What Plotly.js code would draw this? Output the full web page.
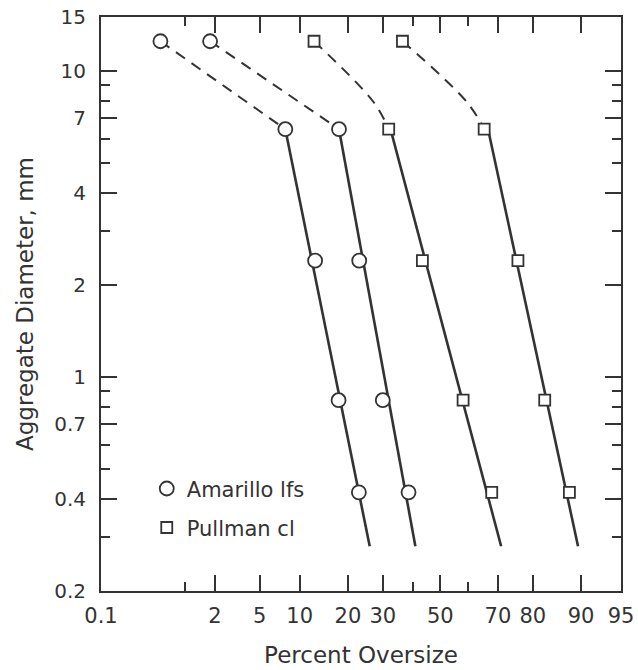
<!DOCTYPE html>
<html>
<head>
<meta charset="utf-8">
<script src="https://cdn.plot.ly/plotly-3.0.1.min.js"></script>
<style>html,body{margin:0;padding:0;background:#fff;}#chart{width:638px;height:670px;}</style>
</head>
<body>
<div id="chart"></div>
<script>
// Sieve diameters (mm)
const diameters = [12.5, 6.45, 2.4, 0.84, 0.42];
// Percent oversize, per soil / sample
const amarilloA = [0.54, 7.9, 12.7, 17.7, 22.9];
const amarilloB = [1.8, 17.8, 23, 30, 38.6];
const pullmanA = [12.5, 31.9, 43.5, 58.2, 68];
const pullmanB = [36.5, 65.5, 76, 82.9, 88];

// Dashed connections (upper part)
const dashAy = [12.5, 6.45];
const dashAmarilloA = [0.54, 7.9];
const dashAmarilloB = [1.8, 17.8];
const dashPy = [12.5, 7.9, 6.45];
const dashPullmanA = [12.5, 27.2, 31.9];
const dashPullmanB = [36.5, 59.6, 65.5];

// Fitted straight lines (lower part)
const fitY = [6.45, 0.28];
const fitAmarilloA = [7.9, 26];
const fitAmarilloB = [17.8, 41];
const fitPullmanA = [32.5, 71];
const fitPullmanB = [66.8, 89.5];

// Axis ticks
const xTickVals = [0.1, 2, 5, 10, 20, 30, 50, 70, 80, 90, 95];
const xTickText = ['0.1', '2', '5', '10', '20', '30', '50', '70', '80', '90', '95'];
const xMinorVals = [1, 40, 60];
const yTickVals = [0.2, 0.4, 0.7, 1, 2, 4, 7, 10, 15];
const yTickText = ['0.2', '0.4', '0.7', '1', '2', '4', '7', '10', '15'];
const yMinorVals = [0.3, 0.5, 0.6, 0.8, 0.9, 3, 5, 6, 8, 9];

function probit(p) {
  const a = [-3.969683028665376e+01, 2.209460984245205e+02, -2.759285104469687e+02, 1.383577518672690e+02, -3.066479806614716e+01, 2.506628277459239e+00];
  const b = [-5.447609879822406e+01, 1.615858368580409e+02, -1.556989798598866e+02, 6.680131188771972e+01, -1.328068155288572e+01];
  const c = [-7.784894002430293e-03, -3.223964580411365e-01, -2.400758277161838e+00, -2.549732539343734e+00, 4.374664141464968e+00, 2.938163982698783e+00];
  const d = [7.784695709041462e-03, 3.224671290700398e-01, 2.445134137142996e+00, 3.754408661907416e+00];
  const pl = 0.02425, ph = 1 - pl;
  let q, r;
  if (p < pl) {
    q = Math.sqrt(-2 * Math.log(p));
    return (((((c[0]*q+c[1])*q+c[2])*q+c[3])*q+c[4])*q+c[5]) / ((((d[0]*q+d[1])*q+d[2])*q+d[3])*q+1);
  }
  if (p <= ph) {
    q = p - 0.5; r = q*q;
    return (((((a[0]*r+a[1])*r+a[2])*r+a[3])*r+a[4])*r+a[5])*q / (((((b[0]*r+b[1])*r+b[2])*r+b[3])*r+b[4])*r+1);
  }
  q = Math.sqrt(-2 * Math.log(1 - p));
  return -(((((c[0]*q+c[1])*q+c[2])*q+c[3])*q+c[4])*q+c[5]) / ((((d[0]*q+d[1])*q+d[2])*q+d[3])*q+1);
}
const z = arr => arr.map(v => probit(v / 100));

const INK = '#333333';
const FONT = '"DejaVu Sans", Verdana, sans-serif';

function dashed(xs, ys) {
  return {x: z(xs), y: ys, mode: 'lines', showlegend: false, hoverinfo: 'skip',
    line: {color: INK, width: 2, dash: '11px,8px', shape: 'spline', smoothing: 1}};
}
function solid(xs, ys) {
  return {x: z(xs), y: ys, mode: 'lines', showlegend: false, hoverinfo: 'skip',
    line: {color: INK, width: 2.6}};
}
function pts(xs, name, symbol, size, legend, show) {
  return {x: z(xs), y: diameters, mode: 'markers', name: name, legend: legend, showlegend: show,
    marker: {symbol: symbol, size: size, color: '#ffffff', line: {color: INK, width: 1.8}}};
}

const data = [
  dashed(dashAmarilloA, dashAy),
  dashed(dashAmarilloB, dashAy),
  dashed(dashPullmanA, dashPy),
  dashed(dashPullmanB, dashPy),
  solid(fitAmarilloA, fitY),
  solid(fitAmarilloB, fitY),
  solid(fitPullmanA, fitY),
  solid(fitPullmanB, fitY),
  pts(amarilloA, 'Amarillo lfs', 'circle', 14, 'legend', true),
  pts(amarilloB, 'Amarillo lfs', 'circle', 14, 'legend', false),
  pts(pullmanA, 'Pullman cl', 'square', 11, 'legend2', true),
  pts(pullmanB, 'Pullman cl', 'square', 11, 'legend2', false)
];

const layout = {
  width: 638, height: 670,
  margin: {l: 101, r: 17, t: 17, b: 79},
  paper_bgcolor: '#ffffff', plot_bgcolor: '#ffffff',
  font: {family: FONT, color: INK, size: 20},
  showlegend: true,
  xaxis: {
    range: [probit(0.001), probit(0.95)],
    tickmode: 'array', tickvals: z(xTickVals), ticktext: xTickText,
    ticks: 'inside', ticklen: 16, tickwidth: 2, tickcolor: INK,
    minor: {tickmode: 'array', tickvals: z(xMinorVals), ticks: 'inside', ticklen: 9, tickwidth: 2, tickcolor: INK, showgrid: false},
    showline: true, linecolor: INK, linewidth: 2, mirror: 'ticks',
    showgrid: false, zeroline: false,
    tickfont: {size: 21, family: FONT, color: INK},
    ticklabelstandoff: 5,
    title: {text: 'Percent Oversize', font: {size: 23, family: FONT, color: INK}, standoff: 20}
  },
  yaxis: {
    type: 'log',
    range: [Math.log10(0.2), Math.log10(15)],
    tickmode: 'array', tickvals: yTickVals, ticktext: yTickText,
    ticks: 'inside', ticklen: 16, tickwidth: 2, tickcolor: INK,
    minor: {tickmode: 'array', tickvals: yMinorVals, ticks: 'inside', ticklen: 9, tickwidth: 2, tickcolor: INK, showgrid: false},
    showline: true, linecolor: INK, linewidth: 2, mirror: 'ticks',
    showgrid: false, zeroline: false,
    tickfont: {size: 20, family: FONT, color: INK},
    ticklabelstandoff: 9,
    title: {text: 'Aggregate Diameter, mm', font: {size: 23, family: FONT, color: INK}, standoff: 14}
  },
  legend: {x: 0.088, y: 0.178, xanchor: 'left', yanchor: 'middle', bgcolor: 'rgba(0,0,0,0)',
    font: {size: 21, family: FONT, color: INK}, itemwidth: 30},
  legend2: {x: 0.088, y: 0.11, xanchor: 'left', yanchor: 'middle', bgcolor: 'rgba(0,0,0,0)',
    font: {size: 21, family: FONT, color: INK}, itemwidth: 30}
};

Plotly.newPlot('chart', data, layout, {displayModeBar: false, staticPlot: true});
</script>
</body>
</html>
